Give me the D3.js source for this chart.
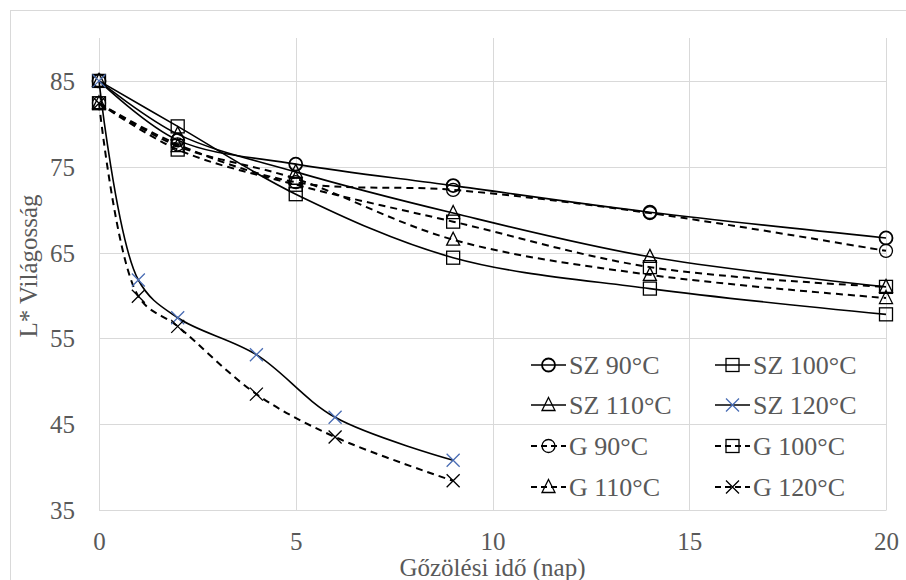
<!DOCTYPE html>
<html><head><meta charset="utf-8">
<script src="https://cdn.jsdelivr.net/npm/d3@7"></script>
<style>body{margin:0;background:#fff}svg{display:block}</style>
</head><body>
<svg id="c" width="906" height="580"></svg>
<script>
const daysA = [0, 2, 5, 9, 14, 20];
const daysB = [0, 1, 2, 4, 6, 9];
const sz90  = [85, 78.1, 75.3, 72.8, 69.7, 66.7];
const sz100 = [85, 79.7, 71.8, 64.4, 60.8, 57.8];
const sz110 = [85, 78.8, 74.4, 69.6, 64.5, 61.0];
const sz120 = [85, 61.8, 57.4, 53.1, 45.8, 40.8];
const g90   = [82.4, 77.6, 73.2, 72.3, 69.6, 65.2];
const g100  = [82.4, 77.0, 72.9, 68.6, 63.3, 61.0];
const g110  = [82.4, 77.4, 73.6, 66.5, 62.4, 59.7];
const g120  = [82.4, 59.9, 56.4, 48.5, 43.5, 38.4];
const xTicks = [0, 5, 10, 15, 20];
const yTicks = [35, 45, 55, 65, 75, 85];
const seriesNames = ["SZ 90°C","SZ 100°C","SZ 110°C","SZ 120°C","G 90°C","G 100°C","G 110°C","G 120°C"];

const series = [
  {name: seriesNames[0], x: daysA, y: sz90,  marker: "circle",   dash: false, mcol: "#000"},
  {name: seriesNames[1], x: daysA, y: sz100, marker: "square",   dash: false, mcol: "#000"},
  {name: seriesNames[2], x: daysA, y: sz110, marker: "triangle", dash: false, mcol: "#000"},
  {name: seriesNames[3], x: daysB, y: sz120, marker: "x",        dash: false, mcol: "#4a6db4"},
  {name: seriesNames[4], x: daysA, y: g90,   marker: "circle",   dash: true,  mcol: "#000"},
  {name: seriesNames[5], x: daysA, y: g100,  marker: "square",   dash: true,  mcol: "#000"},
  {name: seriesNames[6], x: daysA, y: g110,  marker: "triangle", dash: true,  mcol: "#000"},
  {name: seriesNames[7], x: daysB, y: g120,  marker: "x",        dash: true,  mcol: "#000"}
];

const svg = d3.select("#c");
const font = '"Liberation Serif"';
const grey = "#595959", gridC = "#d9d9d9";

svg.append("rect").attr("x",10.5).attr("y",10.5).attr("width",900).attr("height",580)
  .attr("fill","#fff").attr("stroke",gridC).attr("stroke-width",1);

const L = 99, R = 886, T = 38, B = 510;
const x = d3.scaleLinear().domain([0,20]).range([L,R]);
const y = d3.scaleLinear().domain([35,90]).range([B,T]);

const g = svg.append("g");
g.selectAll(".hg").data(yTicks).join("line")
  .attr("x1",L).attr("x2",R).attr("y1",d=>Math.round(y(d))+0.5).attr("y2",d=>Math.round(y(d))+0.5)
  .attr("stroke",gridC).attr("stroke-width",1);
g.selectAll(".vg").data(xTicks).join("line")
  .attr("y1",T).attr("y2",B).attr("x1",d=>Math.round(x(d))+0.5).attr("x2",d=>Math.round(x(d))+0.5)
  .attr("stroke",gridC).attr("stroke-width",1);

const xAxis = d3.axisBottom(x).tickValues(xTicks).tickSize(0).tickPadding(0);
const xa = svg.append("g").attr("transform",`translate(0,${B})`).call(xAxis);
xa.attr("font-family",null);
xa.select(".domain").attr("stroke",gridC);
xa.selectAll("text").style("font-family",font).attr("font-size",25).attr("fill",grey)
  .attr("dy",null).attr("y",40);

const yAxis = d3.axisLeft(y).tickValues(yTicks).tickSize(0).tickPadding(0);
const ya = svg.append("g").attr("transform",`translate(${L},0)`).call(yAxis);
ya.attr("font-family",null);
ya.select(".domain").remove();
ya.selectAll("text").style("font-family",font).attr("font-size",25).attr("fill",grey)
  .attr("x",-24).attr("dy","0.34em");

svg.append("text").attr("x",(L+R)/2).attr("y",576).attr("text-anchor","middle")
  .style("font-family",font).attr("font-size",25).attr("fill",grey).text("Gőzölési idő (nap)");
svg.append("text").attr("transform","translate(37,266) rotate(-90)").attr("text-anchor","middle")
  .style("font-family",font).attr("font-size",25).attr("fill",grey).text("L* Világosság");

function drawMarker(sel, type, cx, cy, col, sw){
  const s = 6.5;
  if(type==="circle"){
    sel.append("circle").attr("cx",cx).attr("cy",cy).attr("r",s).attr("fill","none").attr("stroke",col).attr("stroke-width",sw);
  } else if(type==="square"){
    sel.append("rect").attr("x",cx-s).attr("y",cy-s).attr("width",2*s).attr("height",2*s).attr("fill","none").attr("stroke",col).attr("stroke-width",sw);
  } else if(type==="triangle"){
    sel.append("path").attr("d",`M${cx},${cy-s-1}L${cx+s},${cy+s-1}L${cx-s},${cy+s-1}Z`).attr("fill","none").attr("stroke",col).attr("stroke-width",sw);
  } else {
    sel.append("path").attr("d",`M${cx-s},${cy-s}L${cx+s},${cy+s}M${cx+s},${cy-s}L${cx-s},${cy+s}`).attr("fill","none").attr("stroke",col).attr("stroke-width",sw);
  }
}

const line = d3.line().x(d=>x(d[0])).y(d=>y(d[1])).curve(d3.curveCatmullRom.alpha(0.5));
series.forEach(s=>{
  const pts = s.x.map((v,i)=>[v, s.y[i]]);
  g.append("path").attr("d",line(pts)).attr("fill","none").attr("stroke","#000")
    .attr("stroke-width", s.dash?2:1.6).attr("stroke-dasharray", s.dash?"7,5":null);
});
series.forEach(s=>{
  const mg = g.append("g");
  s.x.forEach((v,i)=> drawMarker(mg, s.marker, x(v), y(s.y[i]), s.mcol, s.marker==="circle"&&!s.dash?1.8:1.3));
});

const legCols = [531, 715], legRows = [365, 405, 446, 487];
series.forEach((s,k)=>{
  const cx = legCols[k%2], cy = legRows[Math.floor(k/2)];
  const lg = svg.append("g");
  lg.append("line").attr("x1",cx).attr("x2",cx+35).attr("y1",cy).attr("y2",cy)
    .attr("stroke","#000").attr("stroke-width",s.dash?2:1.6).attr("stroke-dasharray",s.dash?"6,4":null);
  drawMarker(lg, s.marker, cx+17.5, cy, s.mcol, s.marker==="circle"&&!s.dash?1.8:1.3);
  lg.append("text").attr("x",cx+38).attr("y",cy).attr("dy","0.34em")
    .style("font-family",font).attr("font-size",26).attr("fill",grey).text(s.name);
});
</script>
</body></html>
